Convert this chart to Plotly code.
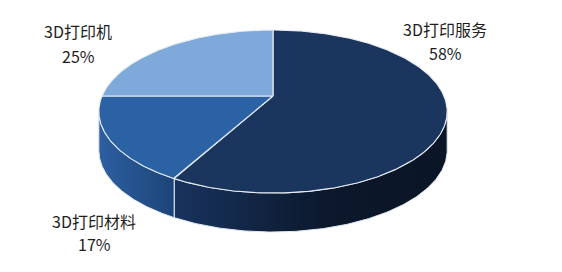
import numpy as np
import plotly.graph_objects as go

# ---- data ----
labels = ["3D打印服务", "3D打印材料", "3D打印机"]
shares = [58, 17, 25]            # percent, drawn clockwise from 12 o'clock

# ---- styles ----
top_colors = ["#1a365e", "#2a62a4", "#7fa9da"]
side_scales = [
    [[0, "#18335e"], [0.55, "#0c182c"], [1, "#0a1526"]],
    [[0, "#2d5fa1"], [1, "#1d4478"]],
    [[0, "#6f98c8"], [1, "#5b83b3"]],
]
label_pos = [(445, 29, 53), (94, 221, 244), (78, 31, 56)]

# ---- projected (perspective) pie geometry in pixel space ----
CX, CY = 273, 96          # projected pie centre (vertex)
A, B, K = 171, 78.6, 0.19  # half axes and perspective factor
DEPTH = 39


def proj(theta_deg):
    t = np.radians(theta_deg)
    u, v = np.sin(t), np.cos(t)
    d = 1 + K * v
    return CX + A * u / d, CY - B * v / d


fig = go.Figure()

total = sum(shares)
bounds = np.concatenate([[0], np.cumsum(shares) / total * 360.0])
vis_lo = np.degrees(np.arccos(-K))
vis_hi = 360 - vis_lo

# side faces (front part of the cylinder)
for i in range(len(shares)):
    s, e = bounds[i], bounds[i + 1]
    a, b = max(s, vis_lo), min(e, vis_hi)
    if b <= a:
        continue
    th = np.linspace(a, b, 200)
    xt, yt = proj(th)
    xs = np.concatenate([xt, xt[::-1], xt[:1]])
    ys = np.concatenate([yt, (yt + DEPTH)[::-1], yt[:1]])
    fig.add_trace(go.Scatter(
        x=xs, y=ys, mode="lines", fill="toself",
        fillgradient=dict(type="horizontal", colorscale=side_scales[i]),
        line=dict(color="rgba(225,232,240,1)", width=1),
        hoverinfo="skip", showlegend=False,
    ))

# top faces
for i in range(len(shares)):
    s, e = bounds[i], bounds[i + 1]
    th = np.linspace(s, e, 300)
    xt, yt = proj(th)
    xs = np.concatenate([[CX], xt, [CX]])
    ys = np.concatenate([[CY], yt, [CY]])
    fig.add_trace(go.Scatter(
        x=xs, y=ys, mode="lines", fill="toself",
        fillcolor=top_colors[i],
        line=dict(color="rgba(232,237,243,1)", width=1.1),
        hoverinfo="skip", showlegend=False,
    ))

# labels
font = dict(family="Noto Sans CJK SC, Noto Sans, sans-serif", size=16, color="#1e1e1e")
for i, (x, y1, y2) in enumerate(label_pos):
    fig.add_annotation(x=x, y=y1, text=labels[i], showarrow=False, font=font,
                       xanchor="center", yanchor="middle")
    fig.add_annotation(x=x, y=y2, text=f"{shares[i]}%", showarrow=False, font=font,
                       xanchor="center", yanchor="middle")

fig.update_layout(
    width=562, height=272,
    margin=dict(l=0, r=0, t=0, b=0),
    paper_bgcolor="white", plot_bgcolor="white",
    xaxis=dict(range=[0, 562], visible=False, fixedrange=True),
    yaxis=dict(range=[272, 0], visible=False, fixedrange=True),
    showlegend=False,
)

fig.write_html("out.html")
